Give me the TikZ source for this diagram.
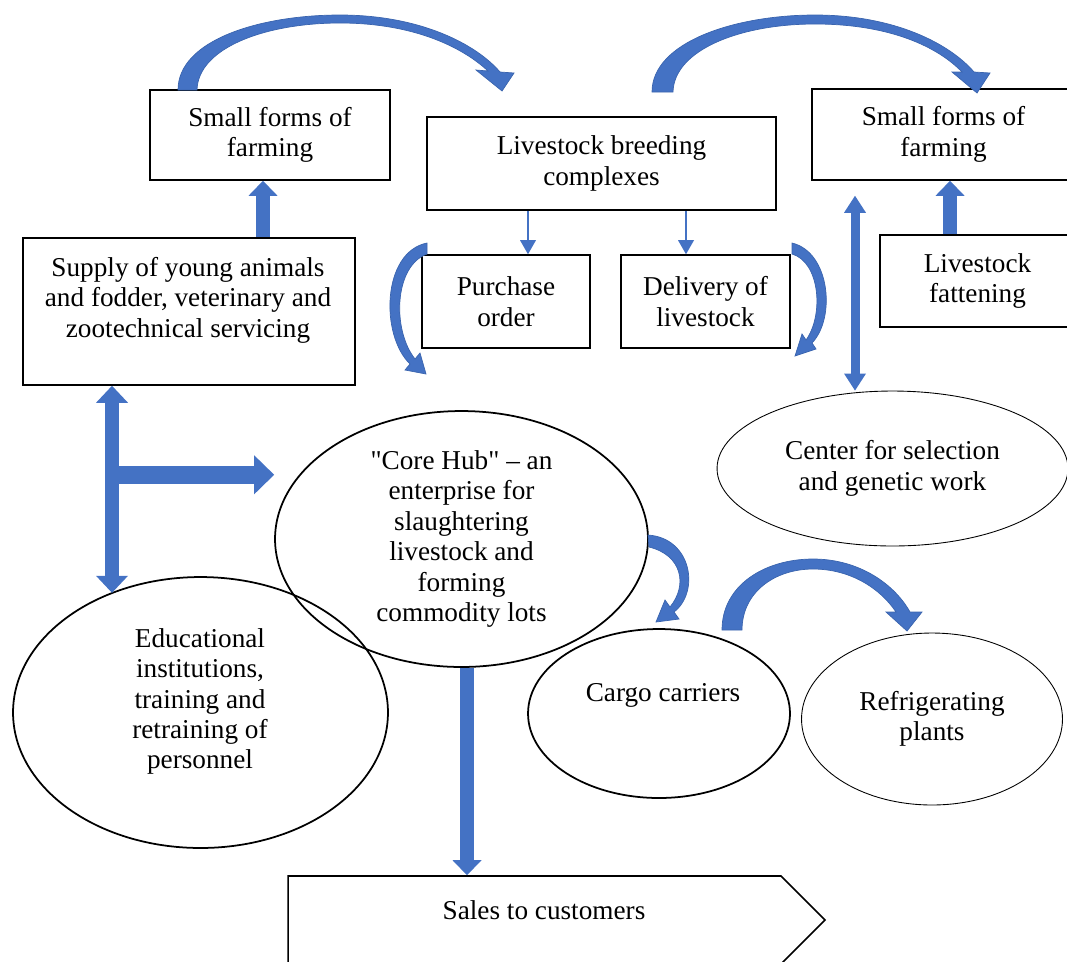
\documentclass[tikz,border=0pt]{standalone}
\usepackage{fontspec}
\setmainfont{Liberation Serif}
\usepackage{xcolor}
\usetikzlibrary{shapes.geometric,shapes.symbols,arrows.meta}
\definecolor{arrowblue}{HTML}{4472C4}
\definecolor{arrowedge}{HTML}{3A64AE}

\begin{document}
\begin{tikzpicture}[x=0.02cm,y=-0.02cm,
  font=\fontsize{15.5}{17.3}\selectfont,
  box/.style={draw,line width=0.9pt,inner sep=0pt,align=center},
  oval/.style={draw,ellipse,line width=1pt,inner sep=0pt,align=center},
  thinoval/.style={draw,ellipse,line width=0.5pt,inner sep=0pt,align=center},
  txt/.style={inner sep=0pt,align=center},
  bigarrow/.style={arrowblue,line width=0.28cm,-{Triangle[width=0.58cm,length=0.3cm,line width=0pt]}},
  bigboth/.style={arrowblue,line width=0.28cm,{Triangle[width=0.64cm,length=0.34cm,line width=0pt]}-{Triangle[width=0.64cm,length=0.34cm,line width=0pt]}},
  widearrow/.style={arrowblue,line width=0.36cm,-{Triangle[width=0.78cm,length=0.4cm,line width=0pt]}},
  midboth/.style={arrowblue,line width=0.18cm,{Triangle[width=0.44cm,length=0.34cm,line width=0pt]}-{Triangle[width=0.44cm,length=0.34cm,line width=0pt]}},
  thinarrow/.style={arrowblue,line width=1.1pt,-{Triangle[width=0.32cm,length=0.28cm,line width=0pt]}},
  curvedarrow/.style={fill=arrowblue,draw=arrowedge,line width=0.4pt}]
\useasboundingbox (0,0) rectangle (1067,961);

% boxes
\node[box,minimum width=4.8cm,minimum height=1.8cm] (sfl) at (270,135) {Small forms of\\farming};
\node[box,minimum width=6.98cm,minimum height=1.86cm] (lbc) at (601.5,163.5) {Livestock breeding\\complexes};
\node[box,minimum width=5.26cm,minimum height=1.82cm] (sfr) at (943.5,134.5) {Small forms of\\farming};
\node[box,minimum width=6.64cm,minimum height=2.94cm] (supply) at (189,311.5) {};
\node[txt] (supplytext) at (188,300) {Supply of young animals\\and fodder, veterinary and\\zootechnical servicing};
\node[box,minimum width=3.36cm,minimum height=1.86cm] (purchase) at (506,301.5) {Purchase\\order};
\node[box,minimum width=3.38cm,minimum height=1.86cm] (delivery) at (705.5,301.5) {Delivery of\\livestock};
\node[box,minimum width=3.9cm,minimum height=1.84cm] (fattening) at (977.5,281) {Livestock\\fattening};

% ellipses
\node[oval,minimum width=7.46cm,minimum height=5.12cm] (core) at (461.5,539) {\textquotedbl Core Hub\textquotedbl{} – an\\enterprise for\\slaughtering\\livestock and\\forming\\commodity lots};
\node[oval,minimum width=7.5cm,minimum height=5.42cm] (edu) at (200.5,712.5) {};
\node[txt] (edutext) at (200,701.5) {Educational\\institutions,\\training and\\retraining of\\personnel};
\node[oval,minimum width=5.24cm,minimum height=3.38cm] (cargo) at (659,713.5) {};
\node[txt] (cargotext) at (663,695) {Cargo carriers};
\node[thinoval,minimum width=5.22cm,minimum height=3.44cm] (fridge) at (932,719) {Refrigerating\\plants};
\node[thinoval,minimum width=7.02cm,minimum height=3.1cm] (selection) at (892.5,468.5) {Center for selection\\and genetic work};

% sales
\node[draw,line width=0.9pt,signal,signal to=east,minimum width=10.74cm,minimum height=1.76cm] (sales) at (534.5,920) {};
\node[txt] (salestext) at (544,910) {Sales to customers};

% straight arrows
\coordinate (upl) at ([xshift=-0.14cm]sfl.south);
\draw[bigarrow] (upl |- supply.north) -- (upl);
\coordinate (upr) at ([xshift=-0.55cm]fattening.north);
\draw[bigarrow] (upr) -- (upr |- sfr.south);
\coordinate (vl) at ([xshift=-1.54cm]supply.south);
\draw[bigboth] (vl) -- (vl |- edu.127);
\coordinate (fork) at ([yshift=-1.78cm]vl);
\draw[widearrow] (fork) -- (fork -| core.west);
\coordinate (down) at ([xshift=0.11cm]core.south);
\draw[bigarrow] (down) -- (down |- sales.north);
\coordinate (gap) at ([yshift=-0.3cm]sfr.south);
\draw[midboth] (gap -| 855,0) -- (855,0 |- selection.north);
\coordinate (po) at ([xshift=0.44cm]purchase.north);
\draw[thinarrow] (po |- lbc.south) -- (po);
\coordinate (dl) at ([xshift=-0.39cm]delivery.north);
\draw[thinarrow] (dl |- lbc.south) -- (dl);

% curved arrows
\filldraw[curvedarrow] (178,90) .. controls (178,40) and (260,15) .. (340,15)
  .. controls (420,15) and (476,44) .. (500,72) -- (514,73) -- (502,91) -- (476,70) -- (488,71)
  .. controls (460,45) and (410,23) .. (340,23) .. controls (265,23) and (198,48) .. (197,90) -- cycle;
\filldraw[curvedarrow] (652,92) .. controls (652,42) and (735,15) .. (815,15)
  .. controls (895,15) and (950,44) .. (974,72) -- (990,73) -- (977,93) -- (952,72) -- (962,72)
  .. controls (938,47) and (890,24) .. (815,24) .. controls (740,24) and (674,50) .. (673,92) -- cycle;
\filldraw[curvedarrow] (427,243) .. controls (382,252) and (380,335) .. (410,364) -- (405,370) -- (426,374)
  -- (420,353) -- (415,359) .. controls (392,330) and (394,266) .. (427,254) -- cycle;
\filldraw[curvedarrow] (792,243) .. controls (830,252) and (836,318) .. (812,343) -- (816,349) -- (795,356)
  -- (802,334) -- (806,340) .. controls (824,315) and (820,262) .. (792,254) -- cycle;
\filldraw[curvedarrow] (648,535) .. controls (692,538) and (700,592) .. (674,612) -- (679,619) -- (656,622)
  -- (665,600) -- (670,607) .. controls (688,585) and (682,555) .. (649,547) -- cycle;
\filldraw[curvedarrow] (722,630) .. controls (722,585) and (765,559) .. (813,559)
  .. controls (860,559) and (895,585) .. (910,612) -- (922,612) -- (907,631) -- (886,612) -- (896,612)
  .. controls (880,588) and (850,569) .. (813,569) .. controls (775,569) and (742,592) .. (742,630) -- cycle;
\end{tikzpicture}
\end{document}
